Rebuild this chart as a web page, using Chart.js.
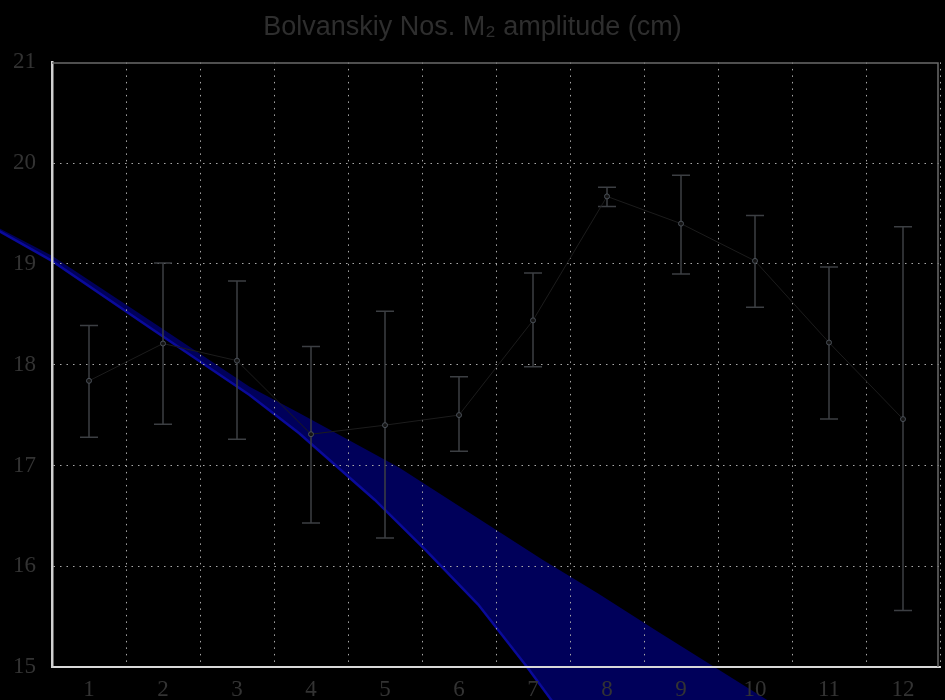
<!DOCTYPE html>
<html>
<head>
<meta charset="utf-8">
<script src="https://cdn.jsdelivr.net/npm/chart.js@4.4.1/dist/chart.umd.min.js"></script>
<style>
  html, body { margin: 0; padding: 0; background: #000; }
  #wrap { width: 945px; height: 700px; }
</style>
</head>
<body>
<div id="wrap"><canvas id="chart" width="945" height="700"></canvas></div>
<script>
// Monthly mean M2 amplitude (cm) with spread
const months = ['1', '2', '3', '4', '5', '6', '7', '8', '9', '10', '11', '12'];
const amplitude = [17.84, 18.21, 18.04, 17.31, 17.40, 17.50, 18.44, 19.67, 19.40, 19.03, 18.22, 17.46];
const errUpper  = [18.39, 19.01, 18.83, 18.18, 18.53, 17.88, 18.91, 19.76, 19.88, 19.48, 18.97, 19.37];
const errLower  = [17.28, 17.41, 17.26, 16.43, 16.28, 17.14, 17.98, 19.57, 18.90, 18.57, 17.46, 15.56];

// Trend band edges (x in month units, y in cm)
const bandUpperX = [-0.30, -0.20, 0.50, 1.82, 3.17, 3.84, 5.19, 7.14, 7.88, 8.69, 10.17, 10.57];
const bandUpperY = [19.39, 19.35, 19.08, 18.44, 17.78, 17.52, 16.98, 16.06, 15.73, 15.35, 14.67, 14.49];
const bandLowerX = [-0.30, -0.20, 0.50, 1.82, 3.17, 3.84, 4.86, 5.55, 6.26, 6.92, 7.25, 7.48];
const bandLowerY = [19.37, 19.32, 19.03, 18.37, 17.70, 17.32, 16.66, 16.16, 15.62, 15.00, 14.67, 14.43];

const yMin = 15, yMax = 21, yStep = 1;

const bandPlugin = {
  id: 'trendBand',
  beforeDraw(chart) {
    const {ctx, scales: {x, y}} = chart;
    ctx.save();
    ctx.fillStyle = '#000';
    ctx.fillRect(0, 0, chart.width, chart.height);
    const px = v => x.getPixelForValue(v - 1);
    ctx.beginPath();
    bandUpperX.forEach((v, i) => {
      const X = px(v), Y = y.getPixelForValue(bandUpperY[i]);
      i === 0 ? ctx.moveTo(X, Y) : ctx.lineTo(X, Y);
    });
    for (let i = bandLowerX.length - 1; i >= 0; i--) {
      ctx.lineTo(px(bandLowerX[i]), y.getPixelForValue(bandLowerY[i]));
    }
    ctx.closePath();
    ctx.fillStyle = '#00005a';
    ctx.fill();
    // brighter lower edge
    ctx.beginPath();
    bandLowerX.forEach((v, i) => {
      const X = px(v), Y = y.getPixelForValue(bandLowerY[i]);
      i === 0 ? ctx.moveTo(X, Y) : ctx.lineTo(X, Y);
    });
    ctx.strokeStyle = '#0a0a9a';
    ctx.lineWidth = 2.5;
    ctx.stroke();
    ctx.restore();
  }
};

const framePlugin = {
  id: 'frameAndErrors',
  beforeDatasetsDraw(chart) {
    const {ctx, chartArea: a, scales: {x, y}} = chart;
    ctx.save();
    // top and right frame
    ctx.strokeStyle = '#6a6a6a';
    ctx.lineWidth = 1.5;
    ctx.beginPath();
    ctx.moveTo(a.left, a.top + 0.5);
    ctx.lineTo(Math.min(a.right, chart.width) - 2, a.top + 0.5);
    ctx.lineTo(Math.min(a.right, chart.width) - 2, a.bottom);
    ctx.stroke();
    // error bars
    ctx.strokeStyle = '#3c3f43';
    ctx.lineWidth = 1.5;
    const cap = 9;
    amplitude.forEach((_, i) => {
      const X = x.getPixelForValue(i);
      const yt = y.getPixelForValue(errUpper[i]);
      const yb = y.getPixelForValue(errLower[i]);
      ctx.beginPath();
      ctx.moveTo(X, yt); ctx.lineTo(X, yb);
      ctx.moveTo(X - cap, yt); ctx.lineTo(X + cap, yt);
      ctx.moveTo(X - cap, yb); ctx.lineTo(X + cap, yb);
      ctx.stroke();
    });
    ctx.restore();
  }
};

const tickColor = '#333333';
const gridColor = '#a8a8a8';

new Chart(document.getElementById('chart'), {
  type: 'line',
  data: {
    labels: months,
    datasets: [{
      data: amplitude,
      borderColor: '#1c1c1c',
      borderWidth: 1,
      tension: 0,
      pointRadius: 2.5,
      pointBorderWidth: 1,
      pointBorderColor: '#4a5058',
      pointBackgroundColor: '#141414'
    }]
  },
  options: {
    responsive: false,
    devicePixelRatio: 1,
    animation: false,
    layout: { padding: { left: -3, right: -3, top: 0, bottom: -12 } },
    plugins: {
      legend: { display: false },
      tooltip: { enabled: false },
      title: {
        display: true,
        text: 'Bolvanskiy Nos. M\u2082 amplitude (cm)',
        color: '#2e2e2e',
        font: { family: 'Liberation Sans', size: 27, weight: 'normal', lineHeight: 1.2 },
        padding: { top: 11, bottom: 19 }
      }
    },
    scales: {
      x: {
        type: 'category',
        offset: true,
        grid: {
          offset: true,
          drawTicks: false,
          lineWidth: 1,
          color: c => (c.index === 0 || c.index === months.length) ? 'rgba(0,0,0,0)' : gridColor
        },
        border: { display: true, color: '#d8d8d8', width: 2, dash: [1.5, 5] },
        ticks: {
          color: tickColor,
          padding: 11,
          maxRotation: 0,
          font: { family: 'Liberation Serif', size: 23, lineHeight: 1 }
        }
      },
      y: {
        min: yMin,
        max: yMax,
        grid: {
          drawTicks: false,
          lineWidth: 1,
          color: c => (c.tick && (c.tick.value === yMin || c.tick.value === yMax)) ? 'rgba(0,0,0,0)' : gridColor
        },
        border: { display: true, color: '#d0d0d0', width: 2.5, dash: [1.5, 5] },
        ticks: {
          stepSize: yStep,
          color: tickColor,
          padding: 16,
          font: { family: 'Liberation Serif', size: 23, lineHeight: 1 }
        }
      }
    }
  },
  plugins: [bandPlugin, framePlugin]
});
</script>
</body>
</html>
